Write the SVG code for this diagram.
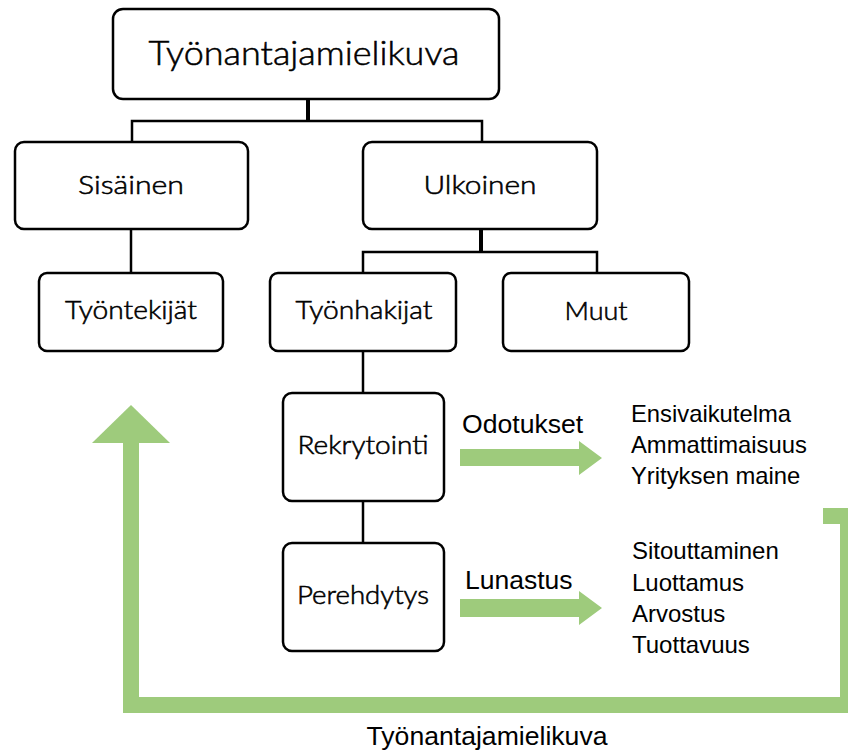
<svg xmlns="http://www.w3.org/2000/svg" width="848" height="751" viewBox="0 0 848 751">
<style>
.box{fill:#fff;stroke:#000;stroke-width:2.5}
.lbl{font-family:Lato,"Liberation Sans",sans-serif;font-weight:300;fill:#000;stroke:#000;stroke-width:0.55;text-anchor:middle}
.ar{font-family:"Liberation Sans",Arial,sans-serif;fill:#000}
.ln{stroke:#000;stroke-width:2.5;fill:none}
.thick{stroke:#000;stroke-width:4;fill:none}
.green{fill:#9ECB7C}
.gline{stroke:#9ECB7C;stroke-width:16;fill:none;stroke-linejoin:miter}
</style>
<rect width="848" height="751" fill="#fff"/>
<g id="connectors">
<line class="thick" x1="308" y1="99" x2="308" y2="121"/>
<polyline class="ln" points="132,142 132,121 482,121 482,142"/>
<line class="ln" x1="131" y1="229" x2="131" y2="273"/>
<line class="thick" x1="481" y1="229" x2="481" y2="252"/>
<polyline class="ln" points="363,273 363,252 597,252 597,273"/>
<line class="ln" x1="363" y1="351" x2="363" y2="393"/>
<line class="ln" x1="363" y1="501" x2="363" y2="543"/>
</g>
<g id="feedback-loop">
<path class="gline" d="M823 516 H848 V705 H131 V441"/>
<polygon class="green" points="131,405 170,443 92,443"/>
</g>
<g id="arrow-odotukset">
<polygon class="green" points="460,449 579,449 579,441 602,458 579,475 579,466 460,466"/>
<text class="ar" x="462" y="433" font-size="26.6">Odotukset</text>
</g>
<g id="arrow-lunastus">
<polygon class="green" points="460,599 579,599 579,591 602,608 579,625 579,617 460,617"/>
<text class="ar" x="465" y="589" font-size="26.5">Lunastus</text>
</g>
<g id="node-top">
<rect class="box" x="113" y="9" width="386" height="90" rx="10"/>
<text class="lbl" x="304" y="65" font-size="33" textLength="311" lengthAdjust="spacingAndGlyphs">Työnantajamielikuva</text>
</g>
<g id="node-sisainen">
<rect class="box" x="15" y="142" width="233" height="87" rx="9"/>
<text class="lbl" x="131" y="194" font-size="26" textLength="106" lengthAdjust="spacingAndGlyphs">Sisäinen</text>
</g>
<g id="node-ulkoinen">
<rect class="box" x="363" y="142" width="234" height="87" rx="9"/>
<text class="lbl" x="480" y="194" font-size="26" textLength="113" lengthAdjust="spacingAndGlyphs">Ulkoinen</text>
</g>
<g id="node-tyontekijat">
<rect class="box" x="39" y="273" width="184" height="78" rx="8"/>
<text class="lbl" x="131" y="319" font-size="24.5" textLength="132" lengthAdjust="spacingAndGlyphs">Työntekijät</text>
</g>
<g id="node-tyonhakijat">
<rect class="box" x="270" y="273" width="186" height="78" rx="8"/>
<text class="lbl" x="364" y="319" font-size="24.5" textLength="137" lengthAdjust="spacingAndGlyphs">Työnhakijat</text>
</g>
<g id="node-muut">
<rect class="box" x="503" y="273" width="186" height="78" rx="8"/>
<text class="lbl" x="596" y="320" font-size="24.5" textLength="63" lengthAdjust="spacingAndGlyphs">Muut</text>
</g>
<g id="node-rekrytointi">
<rect class="box" x="283" y="393" width="161" height="108" rx="9"/>
<text class="lbl" x="363" y="454" font-size="24.5" textLength="131" lengthAdjust="spacingAndGlyphs">Rekrytointi</text>
</g>
<g id="node-perehdytys">
<rect class="box" x="283" y="543" width="161" height="108" rx="9"/>
<text class="lbl" x="363" y="604" font-size="24.5" textLength="132" lengthAdjust="spacingAndGlyphs">Perehdytys</text>
</g>
<g id="list-odotukset">
<text class="ar" x="631" y="422" font-size="23.8">Ensivaikutelma</text>
<text class="ar" x="631" y="453" font-size="23.8">Ammattimaisuus</text>
<text class="ar" x="631" y="484" font-size="23.8">Yrityksen maine</text>
</g>
<g id="list-lunastus">
<text class="ar" x="632" y="559" font-size="24">Sitouttaminen</text>
<text class="ar" x="632" y="591" font-size="24">Luottamus</text>
<text class="ar" x="632" y="622" font-size="24">Arvostus</text>
<text class="ar" x="632" y="653" font-size="24">Tuottavuus</text>
</g>
<g id="bottom-label">
<text class="ar" x="487" y="745" font-size="26.6" text-anchor="middle">Työnantajamielikuva</text>
</g>
</svg>
